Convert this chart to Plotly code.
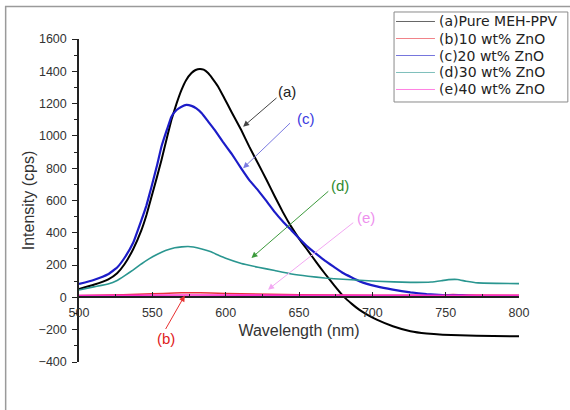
import plotly.graph_objects as go

# ---- data ----
wl_a = [500, 510, 520, 526, 531, 537, 542.5, 546, 549.4, 553, 556.2, 560, 563, 566.5, 569.9, 573, 576.7, 579.5,
        582.4, 585, 588, 591, 594.8, 599, 603.9, 610.7, 616, 622.1, 628, 633.5, 639, 644.9, 650.5, 656.2, 662,
        667.6, 674, 681, 686, 691, 697, 703, 714, 726, 737, 748, 771, 800]
int_a = [52, 78, 112, 150, 205, 300, 415, 510, 622, 740, 850, 990, 1098, 1200, 1285, 1345, 1389, 1408,
         1415, 1410, 1389, 1355, 1306, 1235, 1150, 1035, 935, 829, 725, 625, 528, 435, 358, 288, 215,
         148, 75, 0, -40, -76, -110, -138, -179, -210, -224, -231, -237, -241]

wl_b = [500, 530, 550, 565, 575, 590, 610, 650, 700, 745, 755, 765, 800]
int_b = [12, 16, 22, 27, 29, 27, 22, 17, 14, 14, 18, 15, 13]

wl_c = [500, 510, 519.8, 526, 531.2, 537, 542.5, 546, 549.4, 553, 556.2, 560, 563, 566.5, 569.9, 573.2, 576.7,
        580, 583.7, 588, 592.6, 598, 603.9, 610.7, 616, 622.1, 628, 633.5, 639, 644.9, 650.5, 656.2, 662, 667.6,
        674, 680, 691.5, 703, 714, 726, 737, 748, 760, 771, 785, 800]
int_c = [83, 108, 143, 185, 247, 340, 477, 570, 684, 810, 933, 1040, 1119, 1160, 1181, 1192, 1186,
         1170, 1140, 1090, 1036, 965, 891, 798, 728, 663, 595, 528, 470, 415, 362, 311, 268, 228,
         188, 151, 99, 68, 48, 31, 21, 15, 12, 8, 6, 5]

wl_d = [500, 510, 519.8, 526, 531.2, 537, 542.5, 548, 553.8, 559, 565.3, 570, 574.4, 578, 583.7, 590, 594.8,
        600, 610.7, 622.1, 633.5, 644.9, 656.2, 667.6, 680, 703, 726, 740, 747, 752, 758, 764, 772, 785, 800]
int_d = [46, 65, 83, 105, 135, 170, 207, 240, 269, 290, 307, 313, 315, 312, 300, 282, 262,
         242, 210, 187, 166, 145, 131, 120, 112, 100, 93, 95, 103, 110, 111, 100, 90, 87, 85]

wl_e = [500, 575, 650, 800]
int_e = [12, 15, 13, 13]

names = ["(a)Pure MEH-PPV", "(b)10 wt% ZnO", "(c)20 wt% ZnO", "(d)30 wt% ZnO", "(e)40 wt% ZnO"]
colors = ["#000000", "#e8323c", "#1c1cc8", "#2a9690", "#ff2fd0"]
widths = [2, 1.5, 2.2, 1.6, 1.6]

x_ticks = [500, 550, 600, 650, 700, 750, 800]
y_ticks = [-400, -200, 0, 200, 400, 600, 800, 1000, 1200, 1400, 1600]

series = [(wl_a, int_a), (wl_b, int_b), (wl_c, int_c), (wl_d, int_d), (wl_e, int_e)]

FONT = "Liberation Sans, Arial, sans-serif"
LFONT = "DejaVu Sans, sans-serif"

fig = go.Figure()
for (xs, ys), n, c, w in zip(series, names, colors, widths):
    fig.add_trace(go.Scatter(x=xs, y=ys, mode="lines", name=n, showlegend=False,
                             line=dict(color=c, width=w, shape="spline", smoothing=0.3)))

# label annotations: (text, text_x, text_y, tail_x, tail_y, head_x, head_y, text color, arrow color)
labels = [
    ("(a)", 641.7, 1272, 635.7, 1243, 611.9, 1057, "#222222", "#444444"),
    ("(c)", 654.6, 1105, 644.9, 1088, 611.9, 800, "#3a3ae0", "#7a7ae0"),
    ("(d)", 677.8, 696, 671.0, 665, 617.6, 244, "#2e8b2e", "#3c9a3c"),
    ("(e)", 695.5, 492, 688.0, 470, 628.9, 48, "#ee90ee", "#f2a8f2"),
    ("(b)", 559.2, -256, 558.5, -205, 572.1, 12, "#e02020", "#e83030"),
]
for t, tx, ty, ax_, ay_, hx, hy, tc, ac in labels:
    fig.add_annotation(x=hx, y=hy, ax=ax_, ay=ay_, xref="x", yref="y", axref="x", ayref="y",
                       text="", showarrow=True, arrowhead=2, arrowsize=1.2, arrowwidth=1, arrowcolor=ac)
    fig.add_annotation(x=tx, y=ty, xref="x", yref="y", text=t, showarrow=False,
                       font=dict(family=FONT, size=15, color=tc))

# outer frame
fig.add_shape(type="rect", xref="paper", yref="paper", x0=-0.1667, x1=2, y0=-1, y1=1.101,
              line=dict(color="#9a9a9a", width=1.5), layer="below")

# legend box (Origin style, tight rows)
fig.add_shape(type="rect", xref="paper", yref="paper", x0=0.716, x1=1.111, y0=0.805, y1=1.0836,
              line=dict(color="#8a8a8a", width=1), fillcolor="white", layer="above")
row_y = [1.0542, 1.0015, 0.9489, 0.8963, 0.8437]
for n, c, ry in zip(names, colors, row_y):
    fig.add_shape(type="line", xref="paper", yref="paper", x0=0.7205, x1=0.809, y0=ry, y1=ry,
                  line=dict(color=c, width=1), opacity=0.6, layer="above")
    fig.add_annotation(x=0.8136, y=ry, xref="paper", yref="paper", text=n, showarrow=False,
                       xanchor="left", yanchor="middle",
                       font=dict(family=LFONT, size=14, color="#222222"))

fig.update_layout(
    width=570, height=410,
    margin=dict(l=79, r=51, t=39, b=48, autoexpand=False),
    paper_bgcolor="white", plot_bgcolor="white",
    font=dict(family=FONT, color="#333333"),
    showlegend=False,
    xaxis=dict(range=[500, 800], anchor="free", position=0.2, tickvals=x_ticks,
               showline=True, linecolor="#222222", linewidth=1.5, ticks="inside", ticklen=5,
               tickcolor="#222222", showgrid=False, zeroline=False, ticklabelstandoff=4,
               minor=dict(dtick=25, ticks="inside", ticklen=3, tickcolor="#222222"),
               tickfont=dict(size=12.5, color="#333333"),
               title=dict(text="Wavelength (nm)", font=dict(size=16, color="#333333"), standoff=5)),
    yaxis=dict(range=[-400, 1600], tickvals=y_ticks, showline=True, linecolor="#222222", linewidth=1.5,
               ticks="outside", ticklen=5, tickcolor="#222222", showgrid=False, zeroline=False,
               ticklabelstandoff=3,
               minor=dict(dtick=100, ticks="outside", ticklen=3, tickcolor="#222222"),
               tickfont=dict(size=12.5, color="#333333"),
               title=dict(text="Intensity (cps)", font=dict(size=16, color="#333333"), standoff=0)),
)

fig.write_html("out.html")
